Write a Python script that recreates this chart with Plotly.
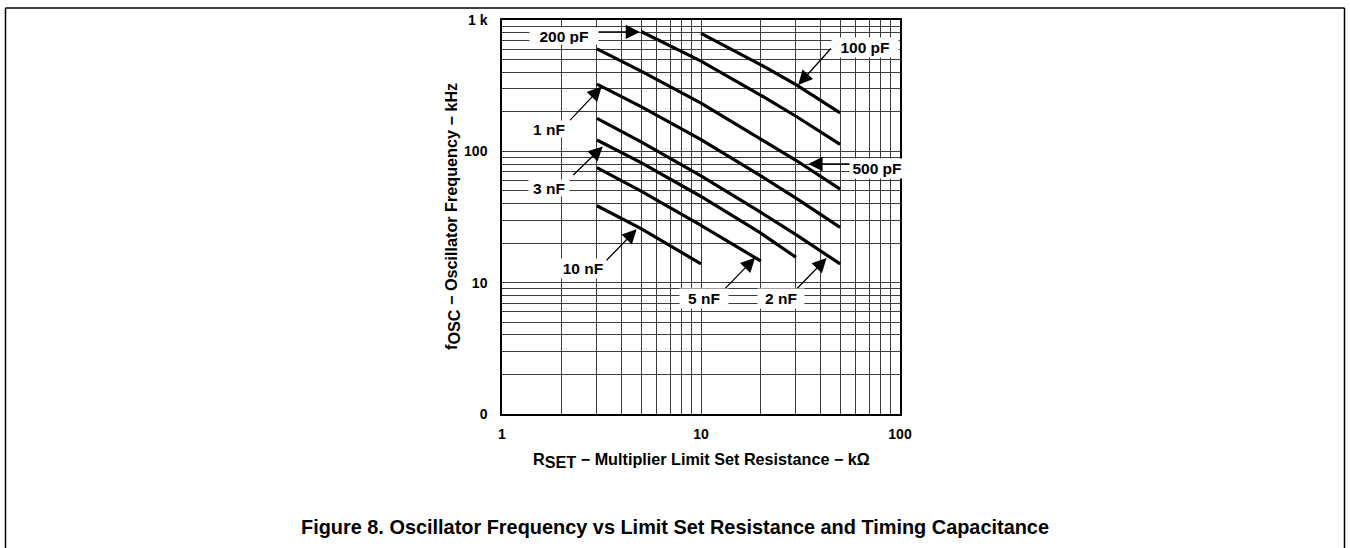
import math
import plotly.graph_objects as go

# ---- data (R in kOhm, f in kHz) ----
R_100pF = [10, 20, 30, 50]
F_100pF = [792, 456, 322, 196]
R_200pF = [5, 10, 20, 30, 50]
F_200pF = [818, 486, 267, 185, 113]
R_500pF = [3, 5, 10, 20, 30, 50]
F_500pF = [603, 408, 233, 125, 85.5, 51.5]
R_1nF = [3, 5, 10, 20, 30, 50]
F_1nF = [325, 219, 123, 65, 44, 26.4]
R_2nF = [3, 5, 10, 20, 30, 50]
F_2nF = [178, 118, 65, 34.3, 23.2, 13.9]
R_3nF = [3, 5, 10, 20, 30]
F_3nF = [122, 82, 45.3, 23.8, 15.6]
R_5nF = [3, 5, 10, 20]
F_5nF = [75.1, 49.8, 27.3, 14.6]
R_10nF = [3, 5, 10]
F_10nF = [38.5, 25.8, 13.9]

series = [
    ("100 pF", R_100pF, F_100pF),
    ("200 pF", R_200pF, F_200pF),
    ("500 pF", R_500pF, F_500pF),
    ("1 nF", R_1nF, F_1nF),
    ("2 nF", R_2nF, F_2nF),
    ("3 nF", R_3nF, F_3nF),
    ("5 nF", R_5nF, F_5nF),
    ("10 nF", R_10nF, F_10nF),
]

x_major = [1, 10, 100]
x_major_text = ["1", "10", "100"]
y_major = [1, 10, 100, 1000]
y_major_text = ["0", "10", "100", "1 k"]

# label: (text, label R, label f, arrow-head R, arrow-head f, tail dx px, tail dy px, box w, box h)
labels = [
    ("200 pF", 2.05, 750, 4.94, 811, -45, 0, 68, 16),
    ("100 pF", 66.7, 619, 30.8, 320, 34, -38, 66, 19),
    ("500 pF", 76.6, 74.3, 34.6, 80.1, 45, 0, 54, 19),
    ("1 nF", 1.72, 148, 3.17, 311, -33, 35, 40, 16),
    ("3 nF", 1.72, 52.9, 3.21, 109, -31, 30, 40, 16),
    ("10 nF", 2.54, 12.8, 4.75, 25.5, -32, 33, 46, 19),
    ("5 nF", 10.35, 7.63, 18.7, 15.5, -32, 33, 48, 19),
    ("2 nF", 25.1, 7.63, 42.8, 15.4, -32, 33, 46, 19),
]

FONT = "Liberation Sans, Arial, Helvetica, sans-serif"

fig = go.Figure()
for name, r, f in series:
    fig.add_trace(go.Scatter(x=r, y=f, mode="lines", name=name,
                             line=dict(color="black", width=3.2),
                             showlegend=False, hoverinfo="skip"))

# gridline positions: every integer multiple inside each decade
x_grid = sorted(set([k * 10 ** d for d in range(0, 2) for k in range(1, 10)] + [100]))
y_grid = sorted(set([k * 10 ** d for d in range(0, 3) for k in range(1, 10)] + [1000]))
x_text = [x_major_text[x_major.index(v)] if v in x_major else "" for v in x_grid]
y_text = [y_major_text[y_major.index(v)] if v in y_major else "" for v in y_grid]

annotations = []
for text, lr, lf, hr, hf, dx, dy, w, h in labels:
    annotations.append(dict(x=math.log10(hr), y=math.log10(hf), xref="x", yref="y",
                            text="", showarrow=True, ax=dx, ay=dy,
                            arrowhead=2, arrowsize=2.2, arrowwidth=1.3,
                            arrowcolor="black", standoff=0))
for text, lr, lf, hr, hf, dx, dy, w, h in labels:
    annotations.append(dict(x=math.log10(lr), y=math.log10(lf), xref="x", yref="y",
                            text="<b>%s</b>" % text, showarrow=False,
                            bgcolor="white", width=w, height=h, borderpad=0,
                            xanchor="center", yanchor="middle",
                            font=dict(family=FONT, size=15.5, color="black")))

TS = 16.2
sub = lambda s: '<sub><span style="font-size:%spx">%s</span></sub>' % (TS, s)
annotations += [
    dict(x=0.5, y=-0.119, xref="paper", yref="paper", showarrow=False,
         xanchor="center", yanchor="middle",
         text="<b>R%s − Multiplier Limit Set Resistance − kΩ</b>" % sub("SET"),
         font=dict(family=FONT, size=TS, color="black")),
    dict(x=-0.1256, y=0.5, xref="paper", yref="paper", showarrow=False, textangle=-90,
         xanchor="center", yanchor="middle",
         text="<b>f%s − Oscillator Frequency − kHz</b>" % sub("OSC"),
         font=dict(family=FONT, size=TS, color="black")),
    dict(x=0.4347, y=-0.288, xref="paper", yref="paper", showarrow=False,
         xanchor="center", yanchor="middle",
         text="<b>Figure 8. Oscillator Frequency vs Limit Set Resistance and Timing Capacitance</b>",
         font=dict(family=FONT, size=19.9, color="black")),
]

W, H = 1350, 548
L, R, T, B = 502, 450, 18, 134
pw, ph = W - L - R, H - T - B

def px(xp):
    return (xp - L) / pw

def py(yp):
    return (H - B - yp) / ph

shapes = [
    dict(type="line", xref="paper", yref="paper", x0=px(5.5), x1=px(1344.5), y0=py(6), y1=py(6),
         line=dict(color="black", width=1.5)),
    dict(type="line", xref="paper", yref="paper", x0=px(5.5), x1=px(5.5), y0=py(6), y1=py(600),
         line=dict(color="black", width=1.5)),
    dict(type="line", xref="paper", yref="paper", x0=px(1344.5), x1=px(1344.5), y0=py(6), y1=py(600),
         line=dict(color="black", width=1.5)),
]

axis_common = dict(showgrid=True, gridcolor="#3c3c3c", gridwidth=1,
                   showline=True, linecolor="black", linewidth=1.5, mirror=True,
                   ticks="", zeroline=False,
                   tickfont=dict(family=FONT, size=14, color="black"))

fig.update_layout(
    width=W, height=H,
    margin=dict(l=L, r=R, t=T, b=B),
    paper_bgcolor="white", plot_bgcolor="white",
    xaxis=dict(type="log", range=[0, 2], tickmode="array", tickvals=x_grid,
               ticktext=["<b>%s</b>" % t if t else "" for t in x_text],
               ticklabelstandoff=6, **axis_common),
    yaxis=dict(type="log", range=[0, 3], tickmode="array", tickvals=y_grid,
               ticktext=["<b>%s</b>" % t if t else "" for t in y_text],
               ticklabelstandoff=10, **axis_common),
    annotations=annotations,
    shapes=shapes,
)

fig.write_html("out.html", config={"displayModeBar": False},
               post_script="document.body.style.margin='0';")
